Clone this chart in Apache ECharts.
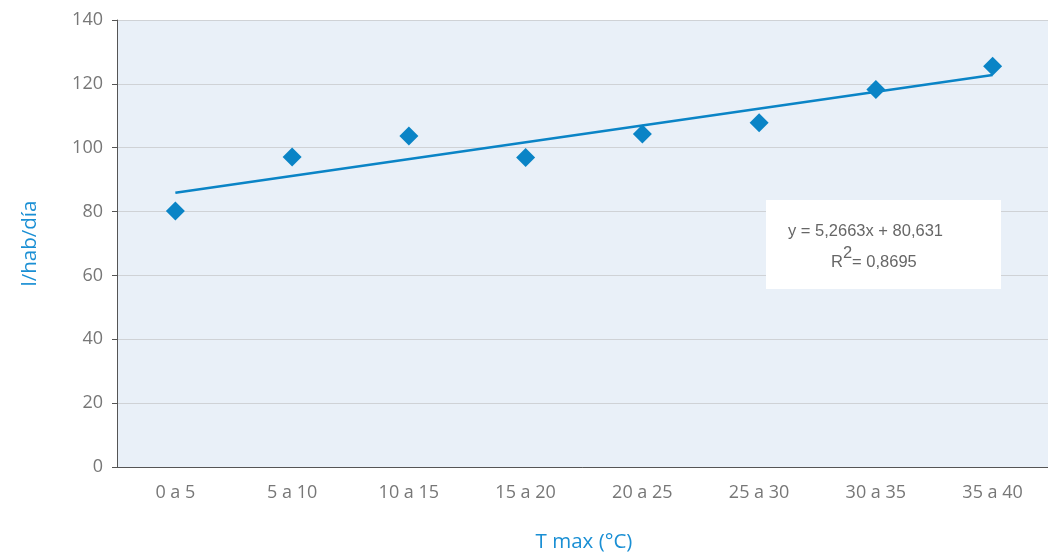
<html lang="es">
  <head>
    <meta charset="UTF-8" />
    <title>Consumo vs T max</title>
    <style>
      body { margin: 0; background: #fff; }
    </style>
  </head>
  <body>
    <div id="main" style="width: 1048px; height: 556px"></div>

    <script src="https://cdn.jsdelivr.net/npm/echarts@6/dist/echarts.min.js"></script>
    <script>
      // categorías de temperatura máxima
      const categories = ['0 a 5', '5 a 10', '10 a 15', '15 a 20', '20 a 25', '25 a 30', '30 a 35', '35 a 40']
      // consumo l/hab/día
      const consumo = [80.2, 97.1, 103.7, 96.9, 104.3, 107.8, 118.2, 125.5]
      // línea de tendencia: solo extremos
      const tendencia = [85.9, null, null, null, null, null, null, 122.8]
      const yTicks = [0, 140, 20]

      const blue = '#0a84c6'
      const grey = '#777'

      let option = {
        animation: false,
        grid: {
          left: 117,
          top: 20,
          width: 934,
          bottom: 89,
          outerBoundsMode: 'none',
          containLabel: false,
          show: true,
          backgroundColor: '#e9f0f8',
          borderWidth: 0
        },
        xAxis: {
          type: 'category',
          data: categories,
          boundaryGap: true,
          name: 'T max (°C)',
          nameLocation: 'middle',
          nameGap: 65,
          nameTextStyle: { color: '#1a8fd4', fontSize: 20.5, fontFamily: 'Open Sans' },
          axisLine: { lineStyle: { color: '#555', width: 1 } },
          axisTick: { length: 5, lineStyle: { color: '#555' } },
          axisLabel: { color: grey, fontSize: 18, fontFamily: 'Open Sans', margin: 17 }
        },
        yAxis: {
          type: 'value',
          min: yTicks[0],
          max: yTicks[1],
          interval: yTicks[2],
          name: 'l/hab/día',
          nameLocation: 'middle',
          nameGap: 76,
          nameTextStyle: { color: '#1a8fd4', fontSize: 20.5, fontFamily: 'Open Sans' },
          axisLine: { show: true, lineStyle: { color: '#555', width: 1 } },
          axisTick: { show: true, length: 5, lineStyle: { color: '#555' } },
          axisLabel: { color: grey, fontSize: 18, fontFamily: 'Open Sans', margin: 14 },
          splitLine: { lineStyle: { color: '#cfd2d6', width: 1 } }
        },
        series: [
          {
            type: 'line',
            data: tendencia,
            connectNulls: true,
            symbol: 'none',
            lineStyle: { color: blue, width: 2.5 },
            z: 2
          },
          {
            type: 'scatter',
            data: consumo,
            symbol: 'diamond',
            symbolSize: [19, 19],
            itemStyle: { color: blue, opacity: 1 },
            z: 3
          }
        ],
        graphic: [
          {
            type: 'rect',
            shape: { x: 766, y: 200, width: 235, height: 89 },
            style: { fill: '#fff' },
            z: 10
          },
          {
            type: 'text',
            x: 788,
            y: 223,
            style: {
              text: 'y = 5,2663x + 80,631',
              fill: '#666',
              font: '16.5px "Liberation Sans", Arial, sans-serif'
            },
            z: 11
          },
          {
            type: 'text',
            x: 831,
            y: 245,
            style: {
              text: '{r|R}{s|2}{r|= 0,8695}',
              rich: {
                r: { fill: '#666', fontSize: 16.5, fontFamily: 'Liberation Sans', verticalAlign: 'bottom', lineHeight: 26 },
                s: { fill: '#666', fontSize: 16.5, fontFamily: 'Liberation Sans', verticalAlign: 'top', lineHeight: 26, padding: [0, 0, 12, 0] }
              }
            },
            z: 11
          }
        ]
      }
      echarts.init(document.querySelector('#main')).setOption(option)
    </script>
  </body>
</html>
